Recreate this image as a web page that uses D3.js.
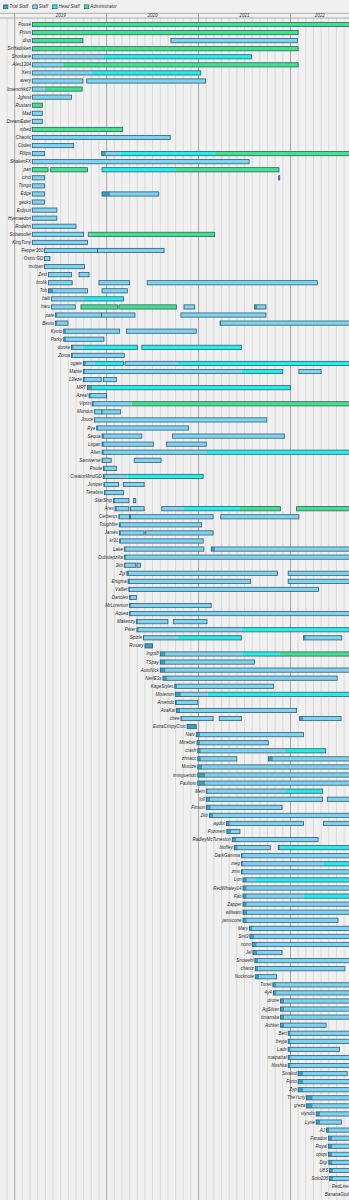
<!DOCTYPE html>
<html>
<head>
<meta charset="utf-8">
<script src="https://cdn.jsdelivr.net/npm/d3@7"></script>
<style>
  body { margin: 0; background: #f0f0f0; }
  svg { display: block; font-family: "Liberation Sans", Arial, sans-serif; font-style: italic; }
</style>
</head>
<body>
<svg width="349" height="1200"></svg>
<script>
// roles (keys + legend labels)
var roleKeys = ["T", "S", "H", "A"];
var roleLabels = ["Trial Staff", "Staff", "Head Staff", "Administrator"];
var yearLabels = ["2019", "2020", "2021", "2022"];

// staff members, top to bottom
var members = ["Pouse","Prism","disp","SirHadoken","Shorkarie","Alex1304","Xero","avery","losenchik67","Jghost",
  "Rustam","Mad","DreamEater","mbed","Chaotic","Codex","Fillips","ShakenFX","pan","cinci",
  "Tongo","Edge","gecko","Erdyuri","Hyenaedon","Rodahn","Subwoofer","KingTony","Pepper360","Osiris GD",
  "mulpan","Zest","brolik","Tob","balli","haru","pale","Beutu","Kyoto","Parky",
  "donke","Zoroa","ogate","Mante","13leze","MRT","Azeal","Viprin","Mondus","Jouce",
  "Rye","Sequa","Logan","Alien","Samiverse","Pisute","CreatorMindGD","Juniper","Tenebris","StarShip",
  "Ares","Cerberus","Toughfire","James","kr31","Lake","Dubstepzilla","3kb","Zgi","Enigma",
  "Vallier","Danolex","MrLoremon","Aquea","Makenzy","Peter","Splzle","Rosary","Ingot8","TSpay",
  "AutoNick","NerfE3x","KageStyles","Misterion","Arvendo","AvaKai","chee","ExtraCrispyCroc","Natv","Mineber",
  "crash","zhnacc","Moutze","iminguendo","Paultom","Mein","loll","Finson","2kb","agdor",
  "Fuzorem","RadleyMcTuneston","bloffey","DarkGamma","meg","zmx","Lon","RedWhaley14","Fab","Zapper",
  "willwam","jamscone","Mary","Sml3","nono","Jel","Snowehl","chantz","Nocknote","Tonet",
  "4y4","drone","AgSilver","timanska","Ashker","Bert","freyja","Lads","matpatrat","filoshka",
  "Sivalod","Forto","Zyp","TheYurly","greza","vlyndis","Lyrie","AJ","Paradox","Royal",
  "opopi","Digi","U8S","Soto205","RedLine","BananaGod"];

// tenures per member: list of stints, each stint = [start, end, role] pieces
// times are months since Jan 2019
var tenures = [
  [[[2.3,44,"A"]]],
  [[[2.3,37,"A"]]],
  [[[2.3,8.9,"A"]],[[20.4,36.9,"S"]]],
  [[[2.3,37,"A"]]],
  [[[2.3,11.6,"S"],[11.6,30.9,"H"]]],
  [[[2.3,6.35,"S"],[6.35,37,"A"]]],
  [[[2.3,10,"S"],[10,24.3,"H"]]],
  [[[2.3,8.9,"S"]],[[9.4,24.9,"S"]]],
  [[[2.3,3.9,"S"],[3.9,8.8,"A"]]],
  [[[2.3,7.4,"S"]]],
  [[[2.3,3.6,"A"]]],
  [[[2.3,3.6,"S"]]],
  [[[2.3,3.6,"S"]]],
  [[[2.3,14.1,"A"]]],
  [[[2.3,20.3,"S"]]],
  [[[2.3,7.7,"S"]]],
  [[[2.3,3.9,"S"]],[[11.35,11.9,"T"],[11.9,13.8,"S"],[13.8,26.1,"H"],[26.1,44,"A"]]],
  [[[2.3,30.6,"S"]]],
  [[[2.3,4.35,"A"]],[[4.7,9.5,"A"]],[[11.4,21,"H"],[21,34.5,"A"]]],
  [[[2.3,3.9,"S"]],[[34.45,34.6,"T"]]],
  [[[2.3,3.9,"S"]]],
  [[[2.3,3.9,"S"]],[[11.4,12.5,"T"],[12.5,18.8,"S"]]],
  [[[2.3,3.9,"S"]]],
  [[[2.3,5.5,"S"]]],
  [[[2.3,5.5,"S"]]],
  [[[2.3,8,"S"]]],
  [[[2.3,9,"S"]],[[9.6,9.9,"S"],[9.9,26.1,"A"]]],
  [[[2.3,9.5,"S"]]],
  [[[3.9,10.8,"S"]],[[10.8,19.5,"S"]]],
  [[[3.9,4.6,"S"]]],
  [[[3.9,9.1,"S"]]],
  [[[4.4,7.4,"S"]],[[8.4,9.7,"S"]]],
  [[[4.4,7.5,"S"]],[[11,15,"S"]],[[17.3,39.5,"S"]]],
  [[[4.4,5,"T"],[5,9.5,"S"]],[[11.4,14.7,"S"]]],
  [[[4.8,9,"S"],[9,14.2,"H"]]],
  [[[4.8,7.9,"S"]],[[8.65,13.4,"A"]],[[13.6,21.1,"A"]],[[22.1,23.5,"S"]],[[31.3,31.7,"T"],[31.7,32.8,"S"]]],
  [[[5.3,5.6,"T"],[5.6,11.35,"S"]],[[11.35,15.7,"S"]],[[21.7,32.8,"S"]]],
  [[[5.3,5.6,"T"],[5.6,6.95,"S"]],[[26.8,27,"T"],[27,44,"S"]]],
  [[[6.4,6.7,"T"],[6.7,13.7,"S"]],[[14.6,23.7,"S"]]],
  [[[6.4,6.7,"T"],[6.7,11.65,"S"]]],
  [[[7.4,7.7,"T"],[7.7,8.9,"S"],[8.9,16,"H"]],[[16.6,29.6,"H"]]],
  [[[7.4,7.65,"T"],[7.65,14.3,"S"]]],
  [[[8.95,9.3,"T"],[9.3,10.4,"S"],[10.4,14.2,"H"]],[[14.4,21.3,"S"],[21.3,44,"H"]]],
  [[[8.95,9.2,"T"],[9.2,29.6,"S"],[29.6,35,"H"]],[[37.1,40,"S"]]],
  [[[8.95,9.2,"T"],[9.2,11.3,"S"]],[[11.6,13.3,"S"]]],
  [[[9.5,10.1,"T"],[10.1,36,"H"]]],
  [[[9.7,9.95,"T"],[9.95,12,"S"]]],
  [[[10.1,10.35,"T"],[10.35,15.25,"S"],[15.25,44,"A"]]],
  [[[10.4,10.55,"T"],[10.55,11.4,"S"]],[[11.4,13.8,"S"]]],
  [[[10.4,10.55,"T"],[10.55,32.9,"S"]]],
  [[[10.7,10.95,"T"],[10.95,22.7,"S"]]],
  [[[11.4,11.65,"T"],[11.65,16.6,"S"]],[[20.6,35.2,"S"]]],
  [[[11.4,11.65,"T"],[11.65,18.1,"S"]],[[19.8,25,"S"]]],
  [[[11.4,11.65,"T"],[11.65,25.1,"S"],[25.1,44,"H"]]],
  [[[11.4,11.6,"T"],[11.6,12.6,"S"]],[[15.6,19.1,"S"]]],
  [[[11.6,11.8,"T"],[11.8,13.3,"S"]]],
  [[[11.55,11.8,"T"],[11.8,14.75,"S"],[14.75,24.6,"H"]]],
  [[[11.65,11.8,"T"],[11.8,13.55,"S"]],[[14.2,16.9,"S"]]],
  [[[11.7,11.9,"T"],[11.9,14.2,"S"]]],
  [[[12.9,13.1,"T"],[13.1,14.9,"S"]],[[15.5,15.8,"S"]]],
  [[[13.1,13.4,"T"],[13.4,14.9,"S"]],[[15.1,16.9,"S"]],[[19.2,22.1,"S"],[22.1,29.4,"H"],[29.4,34.7,"A"]],[[36.8,44,"A"]]],
  [[[13.6,13.8,"T"],[13.8,15,"S"]],[[15.1,25.9,"S"]],[[26.9,37.1,"S"]]],
  [[[13.65,13.9,"T"],[13.9,24.4,"S"]]],
  [[[13.65,13.9,"T"],[13.9,16.9,"S"]],[[17.1,25.9,"S"]]],
  [[[13.7,13.9,"T"],[13.9,24.6,"S"]]],
  [[[14.3,14.5,"T"],[14.5,24.7,"S"]],[[25.65,26.2,"T"],[26.2,44,"S"]]],
  [[[14.3,14.6,"T"],[14.6,44,"S"]]],
  [[[14.3,14.5,"T"],[14.5,15.8,"S"]],[[15.95,16.4,"S"]]],
  [[[14.65,14.95,"T"],[14.95,34.3,"S"]],[[35.7,44,"S"]]],
  [[[14.8,15.1,"T"],[15.1,30.8,"S"]],[[35.7,44,"S"]]],
  [[[14.9,15.1,"T"],[15.1,39.65,"S"]]],
  [[[15,15.25,"T"],[15.25,15.9,"S"]]],
  [[[15,15.25,"T"],[15.25,25.65,"S"]]],
  [[[15,15.2,"T"],[15.2,44,"S"]]],
  [[[15.9,16.1,"T"],[16.1,20,"S"]],[[20.7,25.1,"S"]]],
  [[[15.95,16.2,"T"],[16.2,29.6,"S"],[29.6,44,"H"]]],
  [[[16.8,16.95,"T"],[16.95,21.3,"S"],[21.3,29.6,"H"]],[[37.7,38,"T"],[38,42.7,"S"]]],
  [[[17,18,"T"]]],
  [[[19,19.7,"T"],[19.7,29.7,"S"],[29.7,34.6,"H"],[34.6,44,"A"]]],
  [[[19,19.7,"T"],[19.7,31.3,"S"]]],
  [[[19,19.7,"T"],[19.7,44,"S"]]],
  [[[19.35,19.9,"T"],[19.9,42.1,"S"]]],
  [[[20.9,21.2,"T"],[21.2,33.8,"S"]]],
  [[[20.95,21.7,"T"],[21.7,25.2,"S"],[25.2,44,"H"]]],
  [[[21,21.2,"T"],[21.2,23.9,"S"]]],
  [[[21.1,21.6,"T"],[21.6,36.8,"S"]]],
  [[[21.7,21.9,"T"],[21.9,25.9,"S"]],[[26.7,29.6,"S"]],[[37.2,37.7,"T"],[37.7,42.6,"S"]]],
  [[[22.5,23.7,"T"]]],
  [[[23.7,24.2,"T"],[24.2,37.7,"S"]]],
  [[[23.8,24.2,"T"],[24.2,33.1,"S"]]],
  [[[23.9,24.3,"T"],[24.3,35.3,"S"],[35.3,40.6,"H"]]],
  [[[23.9,24.3,"T"],[24.3,29,"S"]],[[33.1,33.7,"T"],[33.7,44,"S"]]],
  [[[23.9,24.5,"T"],[24.5,44,"S"]]],
  [[[23.9,24.9,"T"],[24.9,44,"S"]]],
  [[[23.9,24.9,"T"],[24.9,44,"S"]]],
  [[[25,25.2,"T"],[25.2,35.3,"S"],[35.3,40.2,"H"]]],
  [[[25,25.5,"T"],[25.5,40.2,"S"]],[[40.8,44,"S"]]],
  [[[25,25.6,"T"],[25.6,34.9,"S"]]],
  [[[25.4,25.9,"T"],[25.9,44,"S"]]],
  [[[27.65,28.1,"T"],[28.1,37.7,"S"]],[[40.3,44,"S"]]],
  [[[27.7,28.3,"T"],[28.3,29.4,"S"]]],
  [[[28.4,28.9,"T"],[28.9,39.6,"S"]]],
  [[[28.65,29.1,"T"],[29.1,33.35,"S"]],[[34.4,34.7,"T"],[34.7,44,"H"]]],
  [[[29.6,29.8,"T"],[29.8,44,"S"]]],
  [[[29.6,29.8,"T"],[29.8,40.3,"S"],[40.3,44,"H"]]],
  [[[29.6,29.8,"T"],[29.8,44,"S"]]],
  [[[29.8,30.35,"T"],[30.35,31.4,"S"],[31.4,44,"H"]]],
  [[[29.8,30.3,"T"],[30.3,44,"S"]]],
  [[[29.8,30.3,"T"],[30.3,37.7,"S"],[37.7,44,"H"]]],
  [[[29.8,30.3,"T"],[30.3,44,"S"]]],
  [[[29.8,30.35,"T"],[30.35,44,"S"]]],
  [[[29.8,30.3,"T"],[30.3,42.2,"S"]]],
  [[[30.65,31,"T"],[31,44,"S"]]],
  [[[30.7,31.3,"T"],[31.3,44,"S"]]],
  [[[31,31.6,"T"],[31.6,44,"S"]]],
  [[[31.1,31.7,"T"],[31.7,34.9,"S"]]],
  [[[31.35,31.8,"T"],[31.8,44,"S"]]],
  [[[31.4,31.8,"T"],[31.8,43.1,"S"]]],
  [[[31.4,31.9,"T"],[31.9,34.2,"S"]]],
  [[[33.7,34.1,"T"],[34.1,44,"S"]]],
  [[[33.75,34.2,"T"],[34.2,44,"S"]]],
  [[[34.7,35.2,"T"],[35.2,44,"S"]]],
  [[[34.7,35.2,"T"],[35.2,44,"S"]]],
  [[[34.7,35.2,"T"],[35.2,44,"S"]]],
  [[[34.7,35.2,"T"],[35.2,40.65,"S"]]],
  [[[35.7,36,"T"],[36,44,"S"]]],
  [[[35.7,36,"T"],[36,44,"S"]]],
  [[[35.7,36,"T"],[36,42.4,"S"]]],
  [[[35.7,36,"T"],[36,44,"S"]]],
  [[[35.7,36,"T"],[36,44,"S"]]],
  [[[37,37.7,"T"],[37.7,43.4,"S"]]],
  [[[37,37.7,"T"],[37.7,44,"S"]]],
  [[[37,37.7,"T"],[37.7,44,"S"]]],
  [[[38.1,38.9,"T"],[38.9,44,"S"]]],
  [[[38.1,38.9,"T"],[38.9,44,"S"]]],
  [[[39.35,39.9,"T"],[39.9,44,"S"]]],
  [[[39.35,39.9,"T"],[39.9,42.65,"S"]]],
  [[[40.7,41.1,"T"],[41.1,44,"S"]]],
  [[[40.95,41.5,"T"],[41.5,44,"S"]]],
  [[[40.95,41.5,"T"],[41.5,44,"S"]]],
  [[[40.95,41.5,"T"],[41.5,44,"S"]]],
  [[[41,41.5,"T"],[41.5,44,"S"]]],
  [[[41.1,41.6,"T"],[41.6,44,"S"]]],
  [[[41.1,41.6,"T"],[41.6,44,"S"]]],
  [[[43.75,44,"T"]]],
  [[[43.8,44,"T"]]]
];

var svg = d3.select("svg"),
  width = +svg.attr("width"),
  height = +svg.attr("height");

var headerTop = 13.3, headerBottom = 18;

// scales
var x = d3.scaleLinear().domain([-1.92, 43.64]).range([0, width]);
var y = d3.scaleBand().domain(members).range([20.47, 1198.7]);
var color = d3.scaleOrdinal().domain(roleKeys)
  .range(["#3a9ec6", "#80d2f2", "#22eeee", "#42e28c"]);
var barH = 4.2;

// background
svg.append("rect").attr("width", width).attr("height", height).attr("fill", "#f0f0f0");

// month grid
var months = d3.range(-1, 44);
svg.append("g").selectAll("line")
  .data(months.filter(function(m) { return m % 12 != 0; }))
  .enter().append("line")
    .attr("x1", function(m) { return x(m); })
    .attr("x2", function(m) { return x(m); })
    .attr("y1", headerBottom).attr("y2", height)
    .attr("stroke", "#d4d4d4").attr("stroke-width", 0.8);

svg.append("g").selectAll("line")
  .data(yearLabels)
  .enter().append("line")
    .attr("x1", function(d, i) { return x(i * 12); })
    .attr("x2", function(d, i) { return x(i * 12); })
    .attr("y1", headerTop).attr("y2", height)
    .attr("stroke", "#a8a8a8").attr("stroke-width", 1);

// header band with years
[headerTop, headerBottom].forEach(function(yy) {
  svg.append("line").attr("x1", 0).attr("x2", width).attr("y1", yy).attr("y2", yy)
    .attr("stroke", "#a0a0a0").attr("stroke-width", 0.8);
});
svg.append("g").selectAll("text")
  .data(yearLabels)
  .enter().append("text")
    .attr("x", function(d, i) {
      var a = Math.max(0, x(i * 12)), b = Math.min(width, x(i * 12 + 12));
      return (a + b) / 2;
    })
    .attr("y", 17.2)
    .attr("text-anchor", "middle")
    .attr("font-size", 4.5)
    .attr("fill", "#333")
    .text(function(d) { return d; });

// legend
var lx = 3.3;
roleKeys.forEach(function(k, i) {
  svg.append("rect").attr("x", lx).attr("y", 4.9).attr("width", 4.6).attr("height", 3.8)
    .attr("fill", color(k)).attr("stroke", "#2e5e6e").attr("stroke-width", 0.7);
  var t = svg.append("text").attr("x", lx + 6).attr("y", 8.4)
    .attr("font-size", 4.5).attr("fill", "#333").text(roleLabels[i]);
  lx = lx + 6 + t.node().getComputedTextLength() + 4.5;
});

// rows
var rows = svg.append("g").selectAll("g")
  .data(members)
  .enter().append("g")
    .attr("transform", function(d) { return "translate(0," + (y(d) + y.bandwidth() / 2) + ")"; });

rows.each(function(name, i) {
  var g = d3.select(this);
  var stints = tenures[i];
  stints.forEach(function(stint) {
    g.selectAll(null).data(stint).enter().append("rect")
      .attr("x", function(s) { return x(s[0]); })
      .attr("width", function(s) { return Math.max(0.3, x(s[1]) - x(s[0])); })
      .attr("y", -barH / 2).attr("height", barH)
      .attr("fill", function(s) { return color(s[2]); });
    var s0 = stint[0][0], s1 = stint[stint.length - 1][1];
    g.append("rect")
      .attr("x", x(s0)).attr("width", Math.max(0.3, x(s1) - x(s0)))
      .attr("y", -barH / 2).attr("height", barH)
      .attr("fill", "none").attr("stroke", "#2e5e6e").attr("stroke-width", 0.8);
  });
  g.append("text")
    .attr("x", x(stints[0][0][0]) - 1.4)
    .attr("y", 1.5)
    .attr("text-anchor", "end")
    .attr("font-size", 4.5)
    .attr("fill", "#2a2a2a")
    .text(name);
});
</script>
</body>
</html>
